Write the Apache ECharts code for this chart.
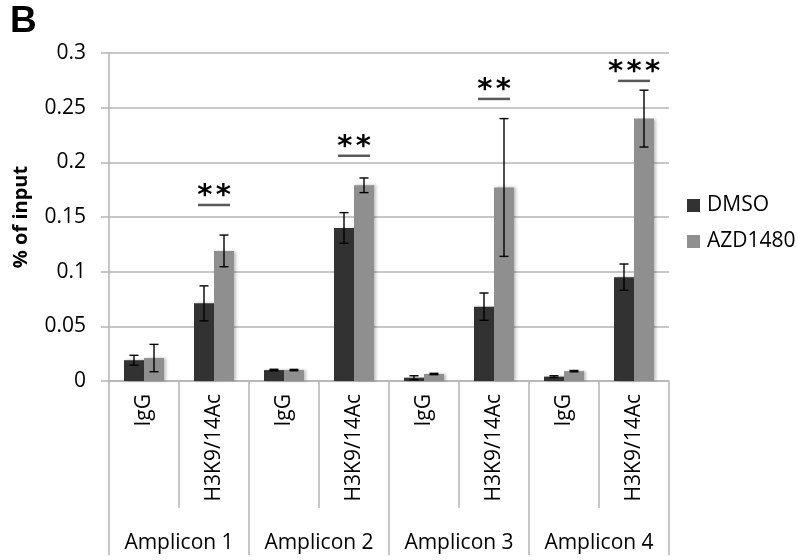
<!DOCTYPE html>
<html>
<head>
<meta charset="utf-8">
<script src="https://cdn.jsdelivr.net/npm/echarts@6/dist/echarts.min.js"></script>
<style>
  html, body { margin: 0; padding: 0; background: #fff; }
  #chart { width: 798px; height: 560px; }
</style>
</head>
<body>
<div id="chart"></div>
<script>
// ChIP-qPCR enrichment (% of input) per amplicon and antibody
const categories = ['IgG', 'H3K9/14Ac', 'IgG', 'H3K9/14Ac', 'IgG', 'H3K9/14Ac', 'IgG', 'H3K9/14Ac'];
const amplicons = ['Amplicon 1', 'Amplicon 2', 'Amplicon 3', 'Amplicon 4'];
const seriesNames = ['DMSO', 'AZD1480'];

const dmso = [0.019, 0.071, 0.010, 0.140, 0.003, 0.068, 0.004, 0.095];
const dmsoErr = [0.0045, 0.016, 0.0007, 0.014, 0.0018, 0.0125, 0.0008, 0.012];
const azd = [0.021, 0.119, 0.010, 0.179, 0.0064, 0.177, 0.009, 0.240];
const azdErr = [0.0125, 0.0145, 0.0006, 0.0067, 0.0006, 0.063, 0.0006, 0.026];

// significance markers: category index, label, bracket level
const sigIndex = [1, 3, 5, 7];
const sigLabel = ['**', '**', '**', '***'];
const sigLevel = [0.161, 0.206, 0.258, 0.2745];

const yTicks = { min: 0, max: 0.3, interval: 0.05 };

const FONT = 'Open Sans';
const FS = 21;
const GRAY = '#b4b4b4';
const BAR_W = 20;

const chart = echarts.init(document.getElementById('chart'), null, { renderer: 'canvas' });

function errorSeries(values, errs, shift) {
  return {
    type: 'custom',
    xAxisIndex: 0,
    z: 5,
    silent: true,
    data: values.map((v, i) => [i, v, errs[i]]),
    renderItem: function (params, api) {
      const i = api.value(0), v = api.value(1), e = api.value(2);
      const top = api.coord([i, v + e]);
      const bot = api.coord([i, v - e]);
      const x = top[0] + shift;
      const cap = 4.5;
      const style = { stroke: '#000', lineWidth: 1.4 };
      return {
        type: 'group',
        children: [
          { type: 'line', shape: { x1: x, y1: top[1], x2: x, y2: bot[1] }, style: style },
          { type: 'line', shape: { x1: x - cap, y1: top[1], x2: x + cap, y2: top[1] }, style: style },
          { type: 'line', shape: { x1: x - cap, y1: bot[1], x2: x + cap, y2: bot[1] }, style: style }
        ]
      };
    }
  };
}

const barShadow = { shadowColor: 'rgba(0,0,0,0.25)', shadowBlur: 3, shadowOffsetX: 2, shadowOffsetY: 0 };

chart.setOption({
  animation: false,
  backgroundColor: '#fff',
  title: {
    text: 'B',
    left: 10,
    top: 3,
    padding: 0,
    textStyle: { fontFamily: 'Liberation Sans', fontWeight: 'bold', fontSize: 37, color: '#000' }
  },
  legend: {
    data: seriesNames,
    orient: 'vertical',
    left: 687,
    top: 195,
    padding: 0,
    itemWidth: 13,
    itemHeight: 13,
    itemGap: 15,
    icon: 'rect',
    textStyle: { fontFamily: FONT, fontSize: FS, color: '#000', padding: [0, 0, 0, 2] }
  },
  grid: { left: 109, top: 53, width: 560, height: 328, containLabel: false },
  xAxis: [
    {
      type: 'category',
      data: categories,
      position: 'bottom',
      axisLine: { show: true, lineStyle: { color: GRAY, width: 1.5 } },
      axisTick: { show: true, length: 127, lineStyle: { color: GRAY, width: 1.5 } },
      axisLabel: { rotate: 90, margin: 13, fontFamily: FONT, fontSize: FS, color: '#000', interval: 0 },
      splitLine: { show: false }
    },
    {
      type: 'category',
      data: amplicons,
      position: 'bottom',
      axisLine: { show: false },
      axisTick: { show: true, length: 174, lineStyle: { color: GRAY, width: 1.5 } },
      axisLabel: { margin: 152, fontFamily: FONT, fontSize: FS, color: '#000', interval: 0 },
      splitLine: { show: false }
    }
  ],
  yAxis: {
    type: 'value',
    min: yTicks.min,
    max: yTicks.max,
    interval: yTicks.interval,
    name: '% of input',
    nameLocation: 'middle',
    nameRotate: 90,
    nameGap: 78,
    nameTextStyle: { fontFamily: FONT, fontWeight: 'bold', fontSize: 20, color: '#000' },
    axisLine: { show: true, lineStyle: { color: GRAY, width: 1.5 } },
    axisTick: { show: true, length: 8, lineStyle: { color: GRAY, width: 1.5 } },
    axisLabel: { margin: 23, fontFamily: FONT, fontSize: FS, color: '#000' },
    splitLine: { show: true, lineStyle: { color: GRAY, width: 1.5 } }
  },
  series: [
    {
      name: 'DMSO',
      type: 'bar',
      xAxisIndex: 0,
      data: dmso,
      barWidth: BAR_W,
      barGap: '0%',
      itemStyle: Object.assign({ color: '#323232' }, barShadow)
    },
    {
      name: 'AZD1480',
      type: 'bar',
      xAxisIndex: 0,
      data: azd,
      barWidth: BAR_W,
      barGap: '0%',
      itemStyle: Object.assign({ color: '#8f8f8f' }, barShadow)
    },
    errorSeries(dmso, dmsoErr, -BAR_W / 2),
    errorSeries(azd, azdErr, BAR_W / 2),
    {
      type: 'custom',
      xAxisIndex: 0,
      z: 6,
      silent: true,
      data: sigIndex.map((c, k) => [c, sigLevel[k], k]),
      renderItem: function (params, api) {
        const c = api.value(0), lvl = api.value(1), k = api.value(2);
        const p = api.coord([c, lvl]);
        const stars = sigLabel[k].length;
        const pitch = 18.5;
        const children = [
          { type: 'line', shape: { x1: p[0] - 16, y1: p[1], x2: p[0] + 16, y2: p[1] },
            style: { stroke: '#595959', lineWidth: 2.5 } }
        ];
        for (let s = 0; s < stars; s++) {
          children.push({
            type: 'text',
            style: {
              text: '*',
              x: p[0] + (s - (stars - 1) / 2) * pitch,
              y: p[1] + 6,
              align: 'center',
              verticalAlign: 'bottom',
              fontFamily: 'DejaVu Sans',
              fontWeight: 'bold',
              fontSize: 29,
              fill: '#000'
            }
          });
        }
        return { type: 'group', children: children };
      }
    }
  ]
});
</script>
</body>
</html>
